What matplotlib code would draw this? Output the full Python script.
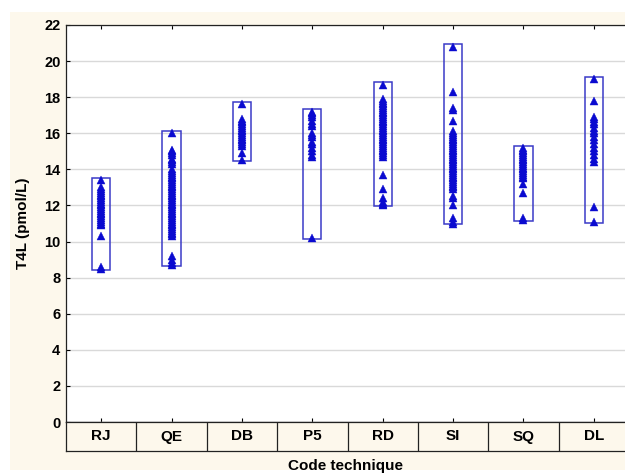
import matplotlib
matplotlib.use("Agg")
import matplotlib.pyplot as plt
from matplotlib.patches import Rectangle

plt.rcParams['font.family'] = ['Liberation Sans', 'DejaVu Sans']

categories = ["RJ", "QE", "DB", "P5", "RD", "SI", "SQ", "DL"]

rj = [13.4, 13.0, 12.9, 12.8, 12.7, 12.6, 12.5, 12.4, 12.3, 12.2, 12.1, 12.0,
      11.9, 11.8, 11.7, 11.6, 11.5, 11.4, 11.3, 11.2, 11.1, 11.0, 10.9, 10.3,
      8.6, 8.5]
qe = [16.0, 15.1, 15.0, 14.9, 14.8, 14.6, 14.5, 14.4, 14.3, 14.0, 13.9, 13.8,
      13.7, 13.6, 13.5, 13.4, 13.3, 13.2, 13.1, 13.0, 12.9, 12.8, 12.7, 12.6,
      12.5, 12.4, 12.3, 12.2, 12.1, 12.0, 11.9, 11.8, 11.7, 11.6, 11.5, 11.4,
      11.3, 11.2, 11.1, 11.0, 10.9, 10.8, 10.7, 10.6, 10.5, 10.4, 10.3, 9.2,
      9.0, 8.8, 8.7]
db = [17.6, 16.8, 16.7, 16.6, 16.5, 16.4, 16.3, 16.2, 16.1, 16.0, 15.9, 15.8,
      15.7, 15.6, 15.5, 15.4, 15.3, 14.9, 14.5]
p5 = [17.2, 17.1, 17.0, 16.9, 16.7, 16.5, 16.4, 16.0, 15.9, 15.8, 15.5, 15.4,
      15.2, 15.0, 14.8, 14.7, 10.2]
rd = [18.7, 17.9, 17.8, 17.7, 17.6, 17.5, 17.4, 17.3, 17.2, 17.1, 17.0, 16.9,
      16.8, 16.7, 16.6, 16.5, 16.4, 16.3, 16.2, 16.1, 16.0, 15.9, 15.8, 15.7,
      15.6, 15.5, 15.4, 15.3, 15.2, 15.1, 15.0, 14.9, 14.8, 14.7, 13.7, 12.9,
      12.4, 12.2, 12.1, 12.0]
si = [20.8, 18.3, 17.4, 17.3, 16.7, 16.1, 16.0, 15.9, 15.8, 15.7, 15.6, 15.5,
      15.4, 15.3, 15.2, 15.1, 15.0, 14.9, 14.8, 14.7, 14.6, 14.5, 14.4, 14.3,
      14.2, 14.1, 14.0, 13.9, 13.8, 13.7, 13.6, 13.5, 13.4, 13.3, 13.2, 13.1,
      13.0, 12.9, 12.5, 12.4, 12.0, 11.3, 11.1, 11.0]
sq = [15.2, 15.1, 15.0, 14.9, 14.8, 14.7, 14.6, 14.5, 14.4, 14.3, 14.2,
      14.1, 14.0, 13.9, 13.8, 13.7, 13.6, 13.5, 13.2, 12.7, 11.3, 11.2]
dl = [19.0, 17.8, 16.9, 16.8, 16.6, 16.5, 16.3, 16.1, 16.0, 15.8, 15.6, 15.4,
      15.2, 15.0, 14.8, 14.6, 14.4, 11.9, 11.1]

series = [rj, qe, db, p5, rd, si, sq, dl]
yticks = [0, 2, 4, 6, 8, 10, 12, 14, 16, 18, 20, 22]

W, H = 625, 474
fig = plt.figure(figsize=(W / 100, H / 100), dpi=100)
fig.patch.set_facecolor("white")
fig.patches.append(Rectangle((10 / W, 4 / H), 1, (470 - 12) / H,
                             transform=fig.transFigure, facecolor="#fdf8ec",
                             edgecolor="none", zorder=-10))

left, right = 66, 629
ax = fig.add_axes([left / W, 1 - 422 / H, (right - left) / W, (422 - 25) / H])
ax.set_facecolor("white")
n = len(categories)
ax.set_xlim(0, n)
ax.set_ylim(0, 22)
ax.set_yticks(yticks)
ax.set_yticklabels([str(v) for v in yticks], fontsize=10.5, fontweight="bold")
ax.set_xticks([i + 0.5 for i in range(n)])
ax.set_xticklabels([])
ax.tick_params(axis="y", direction="in", length=3, left=True, right=True,
               width=0.8, pad=4)
ax.tick_params(axis="x", direction="in", length=3, bottom=True, top=True,
               width=0.8)
ax.grid(axis="y", color="#d9d9d9", linewidth=1.0)
ax.set_axisbelow(True)
for s in ax.spines.values():
    s.set_linewidth(0.9)
    s.set_color("#222222")

bw = 0.26
for i, vals in enumerate(series):
    c = i + 0.5
    lo, hi = min(vals) - 0.05, max(vals) + 0.12
    ax.add_patch(Rectangle((c - bw / 2, lo), bw, hi - lo, facecolor="none",
                           edgecolor="#3b3bc8", linewidth=1.1, zorder=3))
    ax.plot([c] * len(vals), vals, linestyle="none", marker="^",
            markersize=5.4, color="#0a0ad0", markeredgewidth=0.3, zorder=4)

ax.set_ylabel("T4L (pmol/L)", fontsize=11, fontweight="bold", labelpad=10)

# category strip
sx = fig.add_axes([left / W, 1 - 451 / H, (right - left) / W, (451 - 422) / H])
sx.set_facecolor("#fdf8ec")
sx.set_xlim(0, n)
sx.set_ylim(0, 1)
sx.set_xticks([])
sx.set_yticks([])
for s in sx.spines.values():
    s.set_linewidth(0.9)
    s.set_color("#222222")
for i in range(1, n):
    sx.axvline(i, color="#222222", linewidth=0.9)
for i, cat in enumerate(categories):
    sx.text(i + 0.5, 0.5, cat, ha="center", va="center", fontsize=11,
            fontweight="bold")

fig.text((66 + 625) / 2 / W, 1 - 466 / H,
         "Code technique", ha="center", va="center", fontsize=11,
         fontweight="bold")

fig.savefig("out.png", dpi=100, facecolor=fig.get_facecolor())
